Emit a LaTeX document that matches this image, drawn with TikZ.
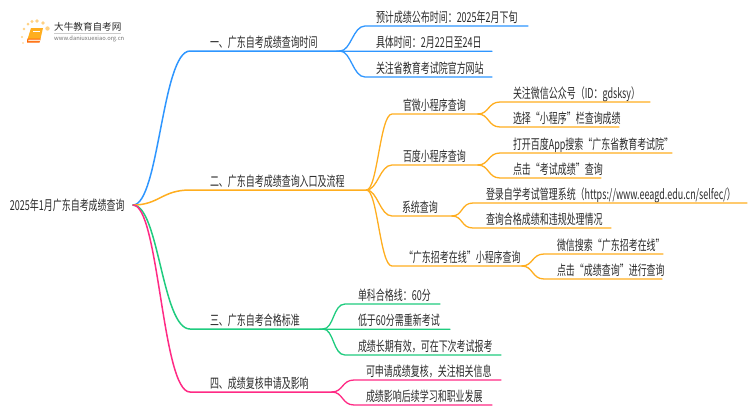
\documentclass[tikz,border=0pt]{standalone}
\usepackage{fontspec}
\setmainfont{Noto Sans CJK SC}[FakeStretch=0.655]
\newfontfamily\logofont{Noto Sans CJK SC}
\definecolor{cblue}{HTML}{2E96FF}
\definecolor{corange}{HTML}{FFAE1F}
\definecolor{cgreen}{HTML}{1FCC7F}
\definecolor{cpink}{HTML}{FF2A85}
\definecolor{ctext}{HTML}{2B2B2B}
\tikzset{
  lab/.style={inner sep=0pt,outer sep=0pt,anchor=south west,text height=11bp,text depth=4bp,text=ctext,font=\fontsize{13.7bp}{15bp}\selectfont},
  linkA/.style={line width=1.5bp,line cap=round},
  linkB/.style={line width=1.3bp,line cap=round},
}
% name, x0, x1, y(underline), text offset, text
\newcommand{\tn}[6]{\node[lab] (#1) at (#2,#4) {\makebox[\dimexpr #3bp-#2bp\relax][l]{\hspace*{#5bp}#6}};}
% parent, child, colour
\newcommand{\rootlink}[2]{\draw[linkA,#2] (root.east) .. controls +(26bp,0bp) and ($(#1.south west)+(-28bp,0bp)$) .. (#1.south west) -- (#1.south east);}
\newcommand{\sublink}[3]{\draw[linkB,#3] (#1.south east) .. controls +(11bp,0bp) and ($(#2.south west)+(-12bp,0bp)$) .. (#2.south west) -- (#2.south east);}
\usetikzlibrary{calc}
\begin{document}
\begin{tikzpicture}[x=1bp,y=-1bp]
\useasboundingbox (0,0) rectangle (750,410);
\fill[white] (0,0) rectangle (750,410);
% logo
\foreach \i/\a/\b/\r in {1/22/37/1.2,2/24/29/1.3,3/28/24/1.5,4/32/21.5/1.7,5/37/21/1.9,6/43/23/1.9,7/47.5/28.5/2.2,8/23/43/.8}{
  \fill[corange!55!white] (\a,\b) circle (\r);
}
\fill[corange] (31,28) -- (43,28) -- (40,41) -- (27,41) -- cycle;
\fill[orange!80!red] (27.5,38.5) -- (40.5,38.5) -- (39.5,42.5) -- (27,42.5) -- cycle;
\fill[white!80!orange] (28.5,39.5) -- (40,39.5) -- (39.7,41) -- (28.2,41) -- cycle;
\draw[white,line width=.7bp] (33,31.5) -- (40,31.5);
\node[inner sep=0pt,anchor=west,text=ctext,font=\logofont\fontsize{9.6bp}{11bp}\selectfont] (logoa) at (54,27) {大牛教育自考网};
\draw[black!20,line width=.5bp] (54,33) -- (121,33);
\node[inner sep=0pt,anchor=west,text=black!55,font=\logofont\fontsize{5.8bp}{8bp}\selectfont] (logob) at (54,38.5) {www.daniuxuexiao.org.cn};
% root
\node[inner sep=0pt,outer sep=0pt,anchor=east,text=ctext,text height=11bp,text depth=1bp,font=\fontsize{13.7bp}{15bp}\selectfont] (root) at (133,205) {\makebox[123bp][l]{2025年1月广东自考成绩查询}};
% level 1
\tn{a}{190}{340}{51}{20}{一、广东自考成绩查询时间}
\tn{b}{190}{366.5}{190}{20}{二、广东自考成绩查询入口及流程}
\tn{c}{190}{323}{329}{20}{三、广东自考合格标准}
\tn{d}{190}{332}{392}{20}{四、成绩复核申请及影响}
% blue leaves
\tn{a1}{365}{528}{26}{11}{预计成绩公布时间：2025年2月下旬}
\tn{a2}{340}{492}{51.3}{36}{具体时间：2月22日至24日}
\tn{a3}{365}{492}{77}{11}{关注省教育考试院官方网站}
% orange level 2
\tn{b1}{392}{478}{114}{11}{官微小程序查询}
\tn{b2}{392}{478}{165}{11}{百度小程序查询}
\tn{b3}{392}{452}{216}{10}{系统查询}
\tn{b4}{392}{522}{266}{12}{“广东招考在线”小程序查询}
% orange leaves
\tn{b11}{500}{650}{102}{13}{关注微信公众号（ID：gdsksy）}
\tn{b12}{500}{619}{127}{13}{选择“小程序”栏查询成绩}
\tn{b21}{500}{672}{153}{13}{打开百度App搜索“广东省教育考试院”}
\tn{b22}{500}{601}{178}{13}{点击“考试成绩”查询}
\tn{b31}{473}{747}{203}{13}{登录自学考试管理系统（https://www.eeagd.edu.cn/selfec/）}
\tn{b32}{473}{611}{228}{13}{查询合格成绩和违规处理情况}
\tn{b41}{544}{663}{254}{13}{微信搜索“广东招考在线”}
\tn{b42}{544}{662}{279}{13}{点击“成绩查询”进行查询}
% green leaves
\tn{c1}{345}{440}{304}{13}{单科合格线：60分}
\tn{c2}{323}{450}{329.3}{35}{低于60分需重新考试}
\tn{c3}{345}{501}{355}{13}{成绩长期有效，可在下次考试报考}
% pink leaves
\tn{d1}{354}{501}{380}{12}{可申请成绩复核，关注相关信息}
\tn{d2}{354}{492}{405}{12}{成绩影响后续学习和职业发展}
% connectors
\rootlink{a}{cblue}
\rootlink{b}{corange}
\rootlink{c}{cgreen}
\rootlink{d}{cpink}
\sublink{a}{a1}{cblue}
\sublink{a}{a2}{cblue}
\sublink{a}{a3}{cblue}
\sublink{b}{b1}{corange}
\sublink{b}{b2}{corange}
\sublink{b}{b3}{corange}
\sublink{b}{b4}{corange}
\sublink{b1}{b11}{corange}
\sublink{b1}{b12}{corange}
\sublink{b2}{b21}{corange}
\sublink{b2}{b22}{corange}
\sublink{b3}{b31}{corange}
\sublink{b3}{b32}{corange}
\sublink{b4}{b41}{corange}
\sublink{b4}{b42}{corange}
\sublink{c}{c1}{cgreen}
\sublink{c}{c2}{cgreen}
\sublink{c}{c3}{cgreen}
\sublink{d}{d1}{cpink}
\sublink{d}{d2}{cpink}
\end{tikzpicture}
\end{document}
